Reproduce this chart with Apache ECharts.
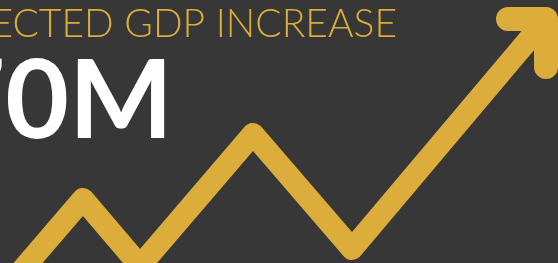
<!DOCTYPE html>
<html>
<head>
<meta charset="utf-8">
<script src="https://cdn.jsdelivr.net/npm/echarts@6/dist/echarts.min.js"></script>
<style>
  html, body { margin: 0; padding: 0; background: #373737; }
  #chart { width: 558px; height: 263px; }
</style>
</head>
<body>
<div id="chart"></div>
<script>
// Data (x position, value) for the zigzag trend and its arrow head
const trendX = [10, 83, 140, 253, 352, 546]
const trendY = [-21, 64, -3, 129, 14, 244]
const arrowX = [508, 546, 546]
const arrowY = [244, 244, 196]

const headline = 'PROJECTED GDP INCREASE'
const bigValue = '70M'

const gold = '#dcad3b'

const chart = echarts.init(document.getElementById('chart'))

const option = {
  backgroundColor: '#373737',
  animation: false,
  grid: { left: 0, right: 0, top: 0, bottom: 0 },
  xAxis: { type: 'value', min: 0, max: 558, show: false },
  yAxis: { type: 'value', min: 0, max: 263, show: false },
  graphic: [
    {
      type: 'text',
      style: {
        text: headline,
        x: 397,
        y: 24,
        textAlign: 'right',
        textVerticalAlign: 'middle',
        font: '300 39px Lato',
        fill: gold
      }
    },
    {
      type: 'text',
      style: {
        text: bigValue,
        x: 173,
        y: 103,
        textAlign: 'right',
        textVerticalAlign: 'middle',
        font: 'bold 110px Lato',
        fill: '#ffffff'
      }
    }
  ],
  series: [
    {
      type: 'line',
      data: trendX.map((x, i) => [x, trendY[i]]),
      symbol: 'none',
      lineStyle: { color: gold, width: 22, cap: 'round', join: 'round' }
    },
    {
      type: 'line',
      data: arrowX.map((x, i) => [x, arrowY[i]]),
      symbol: 'none',
      lineStyle: { color: gold, width: 24, cap: 'round', join: 'round' }
    }
  ]
}

chart.setOption(option)
</script>
</body>
</html>
